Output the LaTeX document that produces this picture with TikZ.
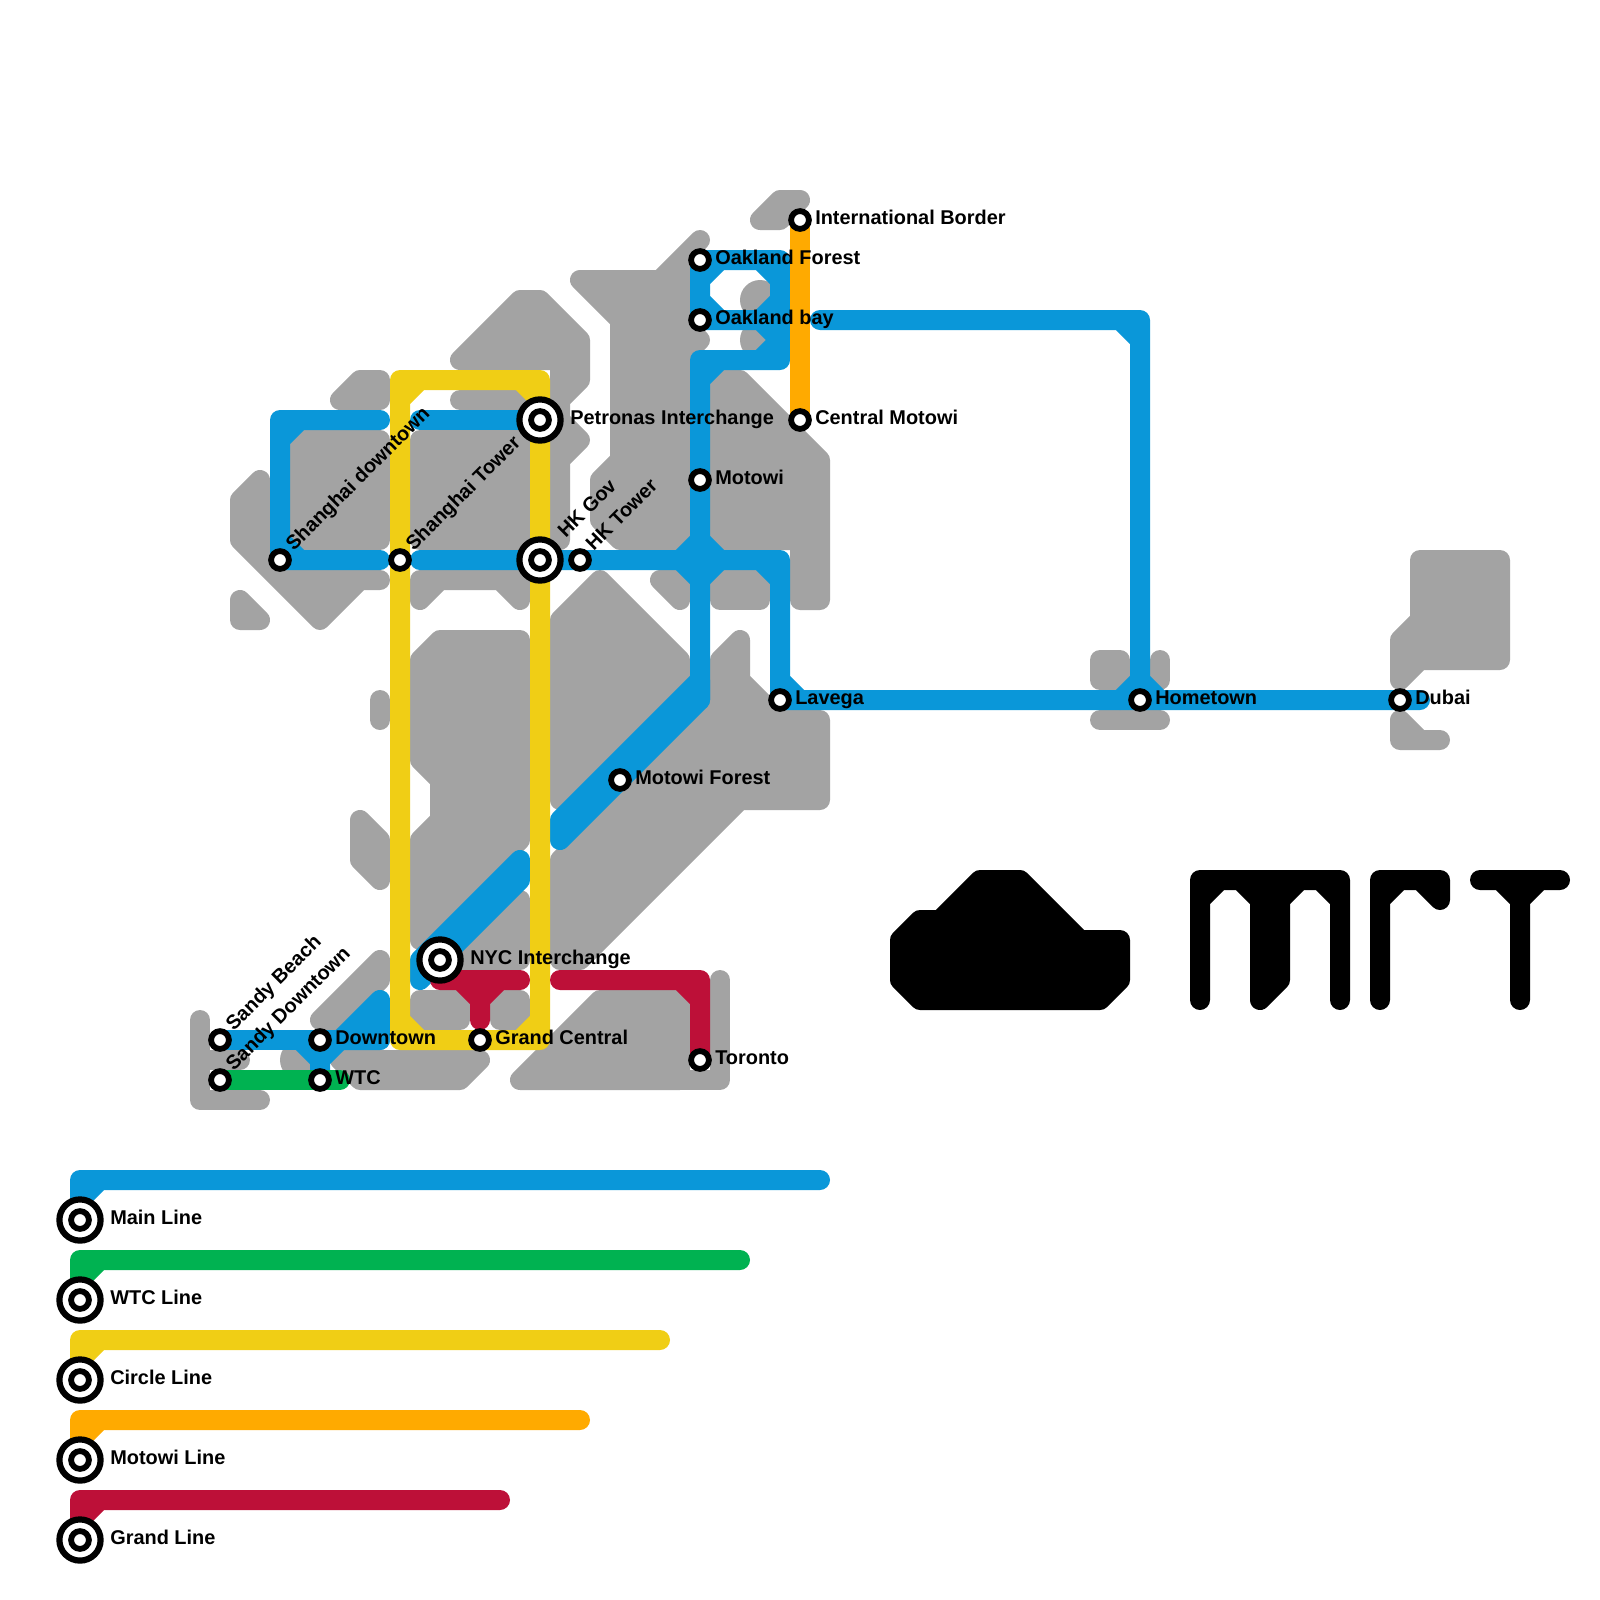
\documentclass[tikz,border=0pt]{standalone}
\usepackage{fontspec}
\setmainfont{Liberation Sans}
\pgfdeclarelayer{land}
\pgfdeclarelayer{track}
\pgfsetlayers{land,track,main}
\definecolor{landgray}{HTML}{A3A3A3}
\definecolor{mainblue}{HTML}{0A97D9}
\definecolor{wtcgreen}{HTML}{00B251}
\definecolor{circleyellow}{HTML}{F0CE15}
\definecolor{motoworange}{HTML}{FFAA00}
\definecolor{grandred}{HTML}{BD1038}
\tikzset{
  thick stroke/.style={line width=0.5cm,line cap=round,line join=round},
  landshape/.style={thick stroke,draw=landgray,fill=landgray},
  landdot/.style={fill=landgray,draw=none},
  track/.style={thick stroke,draw=#1},
  trackfill/.style={thick stroke,draw=#1,fill=#1},
  logoshape/.style={thick stroke,draw=black,fill=black},
  logostroke/.style={thick stroke,draw=black},
  station/.style={circle,draw=black,fill=white,line width=0.145cm,minimum size=0.445cm,inner sep=0pt},
  ring/.style={circle,draw=black,fill=white,line width=0.155cm,minimum size=1.03cm,inner sep=0pt},
  lab/.style={anchor=base west,inner sep=0pt,font=\fontsize{14.17pt}{16pt}\selectfont\bfseries,text=black},
  rlab/.style={lab,rotate=45},
}
\begin{document}
\begin{tikzpicture}[x=0.5cm,y=-0.5cm]
\useasboundingbox (0,0) rectangle (80,80);

% stations
\node[ring] (petring) at (27,21) {};
\node[station] (pet) at (27,21) {};
\node[ring] (hkgring) at (27,28) {};
\node[station] (hkg) at (27,28) {};
\node[ring] (nycring) at (22,48) {};
\node[station] (nyc) at (22,48) {};
\node[station] (intl) at (40,11) {};
\node[station] (oakf) at (35,13) {};
\node[station] (oakb) at (35,16) {};
\node[station] (cmot) at (40,21) {};
\node[station] (mot) at (35,24) {};
\node[station] (shd) at (14,28) {};
\node[station] (sht) at (20,28) {};
\node[station] (hkt) at (29,28) {};
\node[station] (lav) at (39,35) {};
\node[station] (home) at (57,35) {};
\node[station] (dub) at (70,35) {};
\node[station] (motf) at (31,39) {};
\node[station] (gc) at (24,52) {};
\node[station] (tor) at (35,53) {};
\node[station] (sab) at (11,52) {};
\node[station] (sad) at (11,54) {};
\node[station] (dt) at (16,52) {};
\node[station] (wtc) at (16,54) {};
% legend stations
\node[ring] (lgaring) at (4,61) {};
\node[station] (lga) at (4,61) {};
\node[ring] (lgbring) at (4,65) {};
\node[station] (lgb) at (4,65) {};
\node[ring] (lgcring) at (4,69) {};
\node[station] (lgc) at (4,69) {};
\node[ring] (lgdring) at (4,73) {};
\node[station] (lgd) at (4,73) {};
\node[ring] (lgering) at (4,77) {};
\node[station] (lge) at (4,77) {};

% labels
\node[lab] (tpet) at ([shift={(1.5,0.2)}]pet.center) {Petronas Interchange};
\node[lab] (tnyc) at ([shift={(1.5,0.2)}]nyc.center) {NYC Interchange};
\node[lab] (tintl) at ([shift={(0.75,0.2)}]intl.center) {International Border};
\node[lab] (toakf) at ([shift={(0.75,0.2)}]oakf.center) {Oakland Forest};
\node[lab] (toakb) at ([shift={(0.75,0.2)}]oakb.center) {Oakland bay};
\node[lab] (tcmot) at ([shift={(0.75,0.2)}]cmot.center) {Central Motowi};
\node[lab] (tmot) at ([shift={(0.75,0.2)}]mot.center) {Motowi};
\node[lab] (tlav) at ([shift={(0.75,0.2)}]lav.center) {Lavega};
\node[lab] (thome) at ([shift={(0.75,0.2)}]home.center) {Hometown};
\node[lab] (tdub) at ([shift={(0.75,0.2)}]dub.center) {Dubai};
\node[lab] (tmotf) at ([shift={(0.75,0.2)}]motf.center) {Motowi Forest};
\node[lab] (tgc) at ([shift={(0.75,0.2)}]gc.center) {Grand Central};
\node[lab] (ttor) at ([shift={(0.75,0.2)}]tor.center) {Toronto};
\node[lab] (tdt) at ([shift={(0.75,0.2)}]dt.center) {Downtown};
\node[lab] (twtc) at ([shift={(0.75,0.2)}]wtc.center) {WTC};
\node[rlab] (tshd) at ([shift={(0.68,-0.4)}]shd.center) {Shanghai downtown};
\node[rlab] (tsht) at ([shift={(0.68,-0.4)}]sht.center) {Shanghai Tower};
\node[rlab] (thkg) at ([shift={(1.28,-1.05)}]hkg.center) {HK Gov};
\node[rlab] (thkt) at ([shift={(0.68,-0.4)}]hkt.center) {HK Tower};
\node[rlab] (tsab) at ([shift={(0.68,-0.4)}]sab.center) {Sandy Beach};
\node[rlab] (tsad) at ([shift={(0.68,-0.4)}]sad.center) {Sandy Downtown};
\node[lab] (tlga) at ([shift={(1.5,0.2)}]lga.center) {Main Line};
\node[lab] (tlgb) at ([shift={(1.5,0.2)}]lgb.center) {WTC Line};
\node[lab] (tlgc) at ([shift={(1.5,0.2)}]lgc.center) {Circle Line};
\node[lab] (tlgd) at ([shift={(1.5,0.2)}]lgd.center) {Motowi Line};
\node[lab] (tlge) at ([shift={(1.5,0.2)}]lge.center) {Grand Line};

\begin{pgfonlayer}{land}
% Shanghai
\filldraw[landshape] (17,20) -- (18,19) -- (19,19) -- (19,20) -- cycle;
\filldraw[landshape] (15,22) -- (19,22) -- (19,27) -- (15,27) -- cycle;
\filldraw[landshape] (13,24) -- (12,25) -- (12,27) -- (16,31) -- (18,29) -- (19,29) -- (14,29) -- (13,28) -- cycle;
\filldraw[landshape] (12,30) -- (13,31) -- (12,31) -- cycle;
\filldraw[landshape] (21,22) -- (26,22) -- (26,27) -- (21,27) -- cycle;
\filldraw[landshape] (21,29) -- (26,29) -- (26,30) -- (25,29) -- (22,29) -- (21,30) -- cycle;
\draw[landshape] (23,20) -- (26,20);
\filldraw[landshape] (23,18) -- (26,15) -- (27,15) -- (29,17) -- (29,19) -- (28,20) -- (28,21) -- (29,22) -- (28,23) -- (28,27) -- (28,18) -- cycle;
% Motowi north
\filldraw[landshape] (29,14) -- (33,14) -- (35,12) -- (34,13) -- (34,16) -- (35,17) -- (34,18) -- (34,27) -- (31,27) -- (30,26) -- (30,24) -- (31,23) -- (31,16) -- cycle;
\filldraw[landshape] (36,19) -- (37,19) -- (41,23) -- (41,30) -- (40,30) -- (40,27) -- (36,27) -- cycle;
\filldraw[landshape] (33,29) -- (34,29) -- (34,30) -- cycle;
\filldraw[landshape] (36,29) -- (38,29) -- (38,30) -- (36,30) -- cycle;
\filldraw[landshape] (38,11) -- (39,10) -- (40,10) -- (39,11) -- cycle;
\fill[landdot] (38,15) circle (0.5cm);
\fill[landdot] (38,17) circle (0.5cm);
% Motowi south
\filldraw[landshape] (30,29) -- (34,33) -- (34,34) -- (28,40) -- (28,31) -- cycle;
\filldraw[landshape] (36,33) -- (37,32) -- (37,34) -- (39,36) -- (41,36) -- (41,40) -- (37,40) -- (29,48) -- (28,48) -- (28,43) -- (36,35) -- cycle;
% NYC
\filldraw[landshape] (22,32) -- (26,32) -- (26,42) -- (21,47) -- (21,42) -- (22,41) -- (22,39) -- (21,38) -- (21,33) -- cycle;
\filldraw[landshape] (26,45) -- (26,48) -- (23,48) -- cycle;
\filldraw[landshape] (21,50) -- (23,50) -- (23,51) -- (21,51) -- cycle;
\filldraw[landshape] (25,50) -- (26,50) -- (26,51) -- (25,51) -- cycle;
\draw[landshape] (19,35) -- (19,36);
\filldraw[landshape] (18,41) -- (19,42) -- (19,44) -- (18,43) -- cycle;
\filldraw[landshape] (19,48) -- (19,49) -- (17,51) -- (16,51) -- cycle;
\filldraw[landshape] (17,53) -- (24,53) -- (23,54) -- (18,54) -- cycle;
\fill[landdot] (15,53) circle (0.5cm);
\draw[landshape,fill=none] (10,51) -- (10,55) -- (13,55) (10,53) -- (12,53);
\filldraw[landshape] (26,54) -- (30,50) -- (34,50) -- (34,54) -- cycle;
\draw[landshape,fill=none] (34,54) -- (36,54) -- (36,49);
% Hometown and Dubai
\filldraw[landshape] (55,33) -- (56,33) -- (56,34) -- (55,34) -- cycle;
\draw[landshape] (58,33) -- (58,34);
\draw[landshape] (55,36) -- (58,36);
\filldraw[landshape] (71,28) -- (75,28) -- (75,33) -- (71,33) -- (70,34) -- (70,32) -- (71,31) -- cycle;
\filldraw[landshape] (70,36) -- (71,37) -- (72,37) -- (70,37) -- cycle;
% logo
\filldraw[logoshape] (49,44) -- (51,44) -- (54,47) -- (56,47) -- (56,49) -- (55,50) -- (46,50) -- (45,49) -- (45,47) -- (46,46) -- (47,46) -- cycle;
\draw[logostroke] (60,50) -- (60,44) -- (67,44) -- (67,50)
  (60,45) -- (61,44) (62,44) -- (63,45) (64,45) -- (65,44) (66,44) -- (67,45);
\filldraw[logoshape] (63,44) -- (64,44) -- (64,49) -- (63,50) -- cycle;
\draw[logostroke] (69,50) -- (69,44) -- (72,44) -- (72,45)
  (69,45) -- (70,44) (71,44) -- (72,45);
\draw[logostroke] (74,44) -- (78,44) (76,44) -- (76,50)
  (75,44) -- (76,45) -- (77,44);
\end{pgfonlayer}

\begin{pgfonlayer}{track}
% main line
\draw[track=mainblue] (19,21) -- (14,21) -- (shd.center) -- (19,28)
  (15,21) -- (14,22) (14,27) -- (15,28);
\draw[track=mainblue] (21,21) -- (pet.center);
\draw[track=mainblue] (21,28) -- (hkg.center) -- (hkt.center) -- (39,28) -- (lav.center) -- (home.center) -- (dub.center) -- (71,35)
  (38,28) -- (39,29) (39,34) -- (40,35);
\draw[track=mainblue] (34,28) -- (35,27) -- (36,28) -- (35,29) -- cycle;
\draw[track=mainblue] (oakf.center) -- (39,13) -- (39,18) -- (35,18) -- (mot.center) -- (35,35)
  (38,13) -- (39,14) (36,18) -- (35,19) (39,17) -- (38,18);
\draw[track=mainblue] (oakf.center) -- (oakb.center) -- (39,16)
  (35,14) -- (36,13) (35,15) -- (36,16) (39,15) -- (38,16) -- (39,17);
\filldraw[trackfill=mainblue] (35,34) -- (35,35) -- (28,42) -- (28,41) -- cycle;
\draw[track=mainblue] (41,16) -- (57,16) -- (home.center)
  (56,16) -- (57,17) (56,35) -- (57,34) -- (58,35);
\filldraw[trackfill=mainblue] (26,43) -- (26,44) -- (21,49) -- (21,48) -- cycle;
\draw[track=mainblue] (sab.center) -- (dt.center) -- (19,52);
\filldraw[trackfill=mainblue] (19,50) -- (17,52) -- (19,52) -- cycle;
\draw[track=mainblue] (dt.center) -- (wtc.center) (15,52) -- (16,53) -- (17,52);
% green
\draw[track=wtcgreen] (sad.center) -- (wtc.center) -- (17,54);
% circle line
\draw[track=circleyellow] (20,19) -- (27,19) -- (pet.center) -- (hkg.center) -- (27,52) -- (gc.center) -- (20,52) -- (sht.center) -- cycle
  (20,20) -- (21,19) (26,19) -- (27,20) (27,51) -- (26,52) (21,52) -- (20,51);
% orange
\draw[track=motoworange] (intl.center) -- (cmot.center);
% red
\draw[track=grandred] (22,49) -- (26,49) (24,49) -- (24,51) (23,49) -- (24,50) -- (25,49);
\draw[track=grandred] (28,49) -- (35,49) -- (tor.center) (34,49) -- (35,50);
% legend
\draw[track=mainblue] (41,59) -- (4,59) -- (lga.center) (5,59) -- (4,60);
\draw[track=wtcgreen] (37,63) -- (4,63) -- (lgb.center) (5,63) -- (4,64);
\draw[track=circleyellow] (33,67) -- (4,67) -- (lgc.center) (5,67) -- (4,68);
\draw[track=motoworange] (29,71) -- (4,71) -- (lgd.center) (5,71) -- (4,72);
\draw[track=grandred] (25,75) -- (4,75) -- (lge.center) (5,75) -- (4,76);
\end{pgfonlayer}
\end{tikzpicture}
\end{document}
